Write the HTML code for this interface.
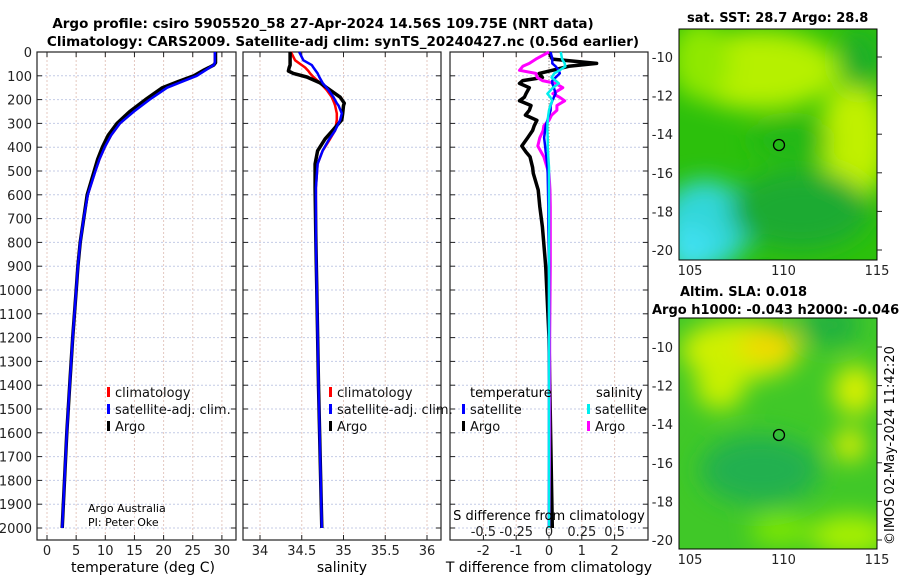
<!DOCTYPE html>
<html><head><meta charset="utf-8"><style>
body{margin:0;background:#fff;}
svg{display:block;font-family:"DejaVu Sans","Liberation Sans",sans-serif;}
</style></head><body>
<svg id="c" width="900" height="580" viewBox="0 0 900 580" xmlns="http://www.w3.org/2000/svg">
<defs>
<filter id="bl" x="-50%" y="-50%" width="200%" height="200%"><feGaussianBlur stdDeviation="12"/></filter>
<clipPath id="m1c"><rect x="679" y="29" width="198" height="231"/></clipPath>
<clipPath id="m2c"><rect x="679" y="318" width="198" height="231"/></clipPath>
</defs>
<text x="323" y="28" text-anchor="middle" font-size="13.5" font-weight="bold">Argo profile: csiro 5905520_58 27-Apr-2024 14.56S 109.75E (NRT data)</text>
<text x="343" y="46" text-anchor="middle" font-size="13.5" font-weight="bold">Climatology: CARS2009. Satellite-adj clim: synTS_20240427.nc (0.56d earlier)</text>

<g>
<g clip-path="url(#m1c)">
<rect x="679" y="29" width="198" height="231" fill="#2cc00c"/>
<g filter="url(#bl)">
<ellipse cx="760" cy="70" rx="80" ry="40" fill="#b6f000"/>
<ellipse cx="700" cy="60" rx="30" ry="40" fill="#90e800"/>
<ellipse cx="855" cy="140" rx="35" ry="60" fill="#c0f000"/>
<ellipse cx="860" cy="60" rx="20" ry="30" fill="#1fae2a"/>
<ellipse cx="705" cy="225" rx="45" ry="45" fill="#30d6d8"/>
<ellipse cx="690" cy="250" rx="25" ry="25" fill="#40e0f0"/>
<ellipse cx="800" cy="210" rx="70" ry="40" fill="#1faa30"/>
<ellipse cx="790" cy="140" rx="40" ry="20" fill="#20b818"/>
</g>
</g>
<rect x="679" y="29" width="198" height="231" fill="none" stroke="#000" stroke-width="1"/>
<circle cx="779" cy="145" r="5.5" fill="none" stroke="#000" stroke-width="1.3"/>
</g>
<text x="687" y="22" font-size="13" font-weight="bold">sat. SST: 28.7 Argo: 28.8</text>

<g>
<g clip-path="url(#m2c)">
<rect x="679" y="318" width="198" height="231" fill="#40c828"/>
<g filter="url(#bl)">
<ellipse cx="740" cy="350" rx="60" ry="30" fill="#d0f000"/>
<ellipse cx="770" cy="345" rx="30" ry="18" fill="#f0d800"/>
<ellipse cx="720" cy="385" rx="25" ry="25" fill="#c8f000"/>
<ellipse cx="855" cy="390" rx="22" ry="25" fill="#d8f000"/>
<ellipse cx="850" cy="445" rx="16" ry="16" fill="#e0f000"/>
<ellipse cx="830" cy="325" rx="30" ry="20" fill="#20b040"/>
<ellipse cx="760" cy="470" rx="60" ry="35" fill="#20b050"/>
<ellipse cx="850" cy="535" rx="40" ry="20" fill="#a8f000"/>
<ellipse cx="780" cy="530" rx="30" ry="15" fill="#80e800"/>
</g>
</g>
<rect x="679" y="318" width="198" height="231" fill="none" stroke="#000" stroke-width="1"/>
<circle cx="779" cy="435" r="5.5" fill="none" stroke="#000" stroke-width="1.3"/>
</g>
<text x="680" y="296" font-size="13" font-weight="bold">Altim. SLA: 0.018</text>
<text x="652" y="314" font-size="13" font-weight="bold">Argo h1000: -0.043 h2000: -0.046</text>
<text transform="translate(894,545) rotate(-90)" font-size="13">©IMOS 02-May-2024 11:42:20</text>

<g id="plots"></g>

<text x="88" y="512" font-size="11">Argo Australia</text>
<text x="88" y="526" font-size="11">PI: Peter Oke</text>
<text x="143" y="572" text-anchor="middle" font-size="14">temperature (deg C)</text>
<text x="342" y="572" text-anchor="middle" font-size="14">salinity</text>
<text x="549" y="572" text-anchor="middle" font-size="14">T difference from climatology</text>
<text x="549" y="520" text-anchor="middle" font-size="13">S difference from climatology</text>
</svg>
<script>
const tDepth=[0,45,55,65,75,100,125,150,200,250,300,350,400,450,500,600,700,800,900,1000,1200,1400,1600,1800,2000];
const tArgo=[28.9,28.9,28.6,27.8,27.0,25.2,22.4,19.8,16.9,14.2,12,10.5,9.5,8.7,8.1,6.9,6.3,5.7,5.3,5.0,4.4,3.9,3.4,3.0,2.6];
const tClim=[28.8,28.8,28.6,27.9,27.2,25.6,23.0,20.5,17.5,14.8,12.5,11.0,9.9,9.0,8.3,7.0,6.3,5.7,5.3,5.0,4.4,3.9,3.4,3.0,2.6];
const tSat=[28.8,28.8,28.6,27.9,27.3,25.7,23.1,20.6,17.6,14.9,12.5,11.0,9.9,9.0,8.3,7.0,6.3,5.7,5.3,5.0,4.4,3.9,3.4,3.0,2.6];
const sDepth=[0,35,55,65,80,90,105,130,160,190,215,225,258,285,330,365,415,470,570,800,1000,1400,2000];
const sArgo=[34.36,34.36,34.36,34.35,34.34,34.40,34.56,34.72,34.84,34.96,35.01,35.0,34.99,34.98,34.87,34.78,34.69,34.66,34.66,34.67,34.68,34.70,34.74];
const sClim=[34.37,34.42,34.50,34.54,34.58,34.60,34.64,34.72,34.80,34.86,34.89,34.90,34.92,34.92,34.90,34.84,34.75,34.69,34.67,34.67,34.68,34.70,34.74];
const sSat=[34.47,34.52,34.62,34.64,34.67,34.69,34.71,34.75,34.82,34.88,34.92,34.94,34.98,34.96,34.90,34.83,34.75,34.69,34.67,34.67,34.68,34.70,34.74];
const dDepth=[0,30,48,60,77,90,107,120,132,150,175,190,205,225,245,265,287,310,330,360,395,420,440,485,510,580,650,735,900,1200,1600,2000];
const dTArgo=[0,0.1,1.45,0.6,0.1,-0.3,-0.2,-0.8,-0.9,-0.6,-0.7,-0.75,-0.9,-0.55,-0.6,-0.72,-0.37,-0.45,-0.5,-0.65,-0.83,-0.7,-0.58,-0.5,-0.48,-0.33,-0.28,-0.2,-0.1,0,0.05,0.1];
const dTSat=[0.05,0.1,0.1,0.2,0.3,0.33,0.2,0.1,0.1,0.15,0.2,0.15,0.1,0.05,0.05,0,-0.05,-0.1,-0.12,-0.15,-0.12,-0.1,-0.08,-0.05,-0.04,-0.03,-0.02,-0.02,0,0,0,0];
const dSArgo=[0,-0.1,-0.15,-0.2,-0.225,-0.1,-0.09,-0.05,0.05,0.105,0.03,0.08,0.12,0.06,0.06,0.02,0,-0.04,-0.045,-0.07,-0.085,-0.06,-0.04,-0.015,0,0.008,0.01,0.01,0.01,0.005,0.005,0];
const dSSat=[0.09,0.1,0.12,0.125,0.08,0.04,0.02,0.05,0.075,0.03,-0.012,0.01,0.025,0.01,0,-0.005,-0.01,-0.012,-0.012,-0.01,-0.01,-0.008,-0.005,0,0,0,0,0,0,0,0,0];
const yTicks=[0,100,200,300,400,500,600,700,800,900,1000,1100,1200,1300,1400,1500,1600,1700,1800,1900,2000];
const tTicks=[0,5,10,15,20,25,30];
const sTicks=[34,34.5,35,35.5,36];
const dTTicks=[-2,-1,0,1,2];
const dSTicks=[-0.5,-0.25,0,0.25,0.5];
const dSTickLabels=["-0.5","-0.25","0","0.25","0.5"];

const NS="http://www.w3.org/2000/svg";
const root=document.getElementById('plots');
const TOP=52;
const Y=d=>52+0.238*d;
const XT=v=>47+5.83*v;
const XS=v=>260+83.5*(v-34);
const XD=v=>549+32.8*v;
const XDS=v=>549+131.2*v;
function mk(tag,attrs,parent){const e=document.createElementNS(NS,tag);for(const k in attrs)e.setAttribute(k,attrs[k]);(parent||root).appendChild(e);return e;}
function panel(name,x0,x1,xt,xf){
  const g=mk('g',{});
  
  
  mk('rect',{x:x0,y:TOP,width:x1-x0,height:540-TOP,fill:'#fff'},g);
  yTicks.forEach(d=>{const l=mk('line',{x1:x0,x2:x1,y1:Y(d),y2:Y(d),stroke:'#c4cbe6','stroke-width':1,'stroke-dasharray':'2,2'},g);
    
    
    mk('line',{x1:x0,x2:x0+5,y1:Y(d),y2:Y(d),stroke:'#222'},g);
    mk('line',{x1:x1-5,x2:x1,y1:Y(d),y2:Y(d),stroke:'#222'},g);});
  xt.forEach(v=>{const x=xf(v);const l=mk('line',{x1:x,x2:x,y1:TOP,y2:540,stroke:'#e4c8c0','stroke-width':1,'stroke-dasharray':'2,2'},g);
    
    
    mk('line',{x1:x,x2:x,y1:TOP,y2:TOP+5,stroke:'#222'},g);
    mk('line',{x1:x,x2:x,y1:535,y2:540,stroke:'#222'},g);
    const t=mk('text',{x:x,y:555,'text-anchor':'middle','font-size':13,fill:'#222'},g);t.textContent=v;
    
    });
  mk('rect',{x:x0,y:TOP,width:x1-x0,height:540-TOP,fill:'none',stroke:'#222','stroke-width':1.2},g);
  return g;
}
function line(g,name,xs,ds,xf,col,w){
  const p=mk('path',{d:xs.map((v,i)=>(i?'L':'M')+xf(v).toFixed(1)+','+Y(ds[i]).toFixed(1)).join(''),fill:'none',stroke:col,'stroke-width':w,'stroke-linejoin':'round'},g);
  
  
}
function leg(x,y,col,txt,name){
  const g=mk('g',{});
  
  
  mk('rect',{x:x,y:y-10,width:3,height:10,fill:col},g);
  const t=mk('text',{x:x+8,y:y,'font-size':13,fill:'#111'},g);t.textContent=txt;
}
yTicks.forEach(d=>{const t=mk('text',{x:32,y:Y(d)+5,'text-anchor':'end','font-size':13,fill:'#222'});t.textContent=d;
  
  });
const p1=panel('temperature-panel',37,236,tTicks,XT);
line(p1,'temperature-climatology',tClim,tDepth,XT,'#f00',2.5);
line(p1,'temperature-argo',tArgo,tDepth,XT,'#000',3.5);
line(p1,'temperature-satellite-adj',tSat,tDepth,XT,'#00f',2.5);
const p2=panel('salinity-panel',243,441,sTicks,XS);
line(p2,'salinity-climatology',sClim,sDepth,XS,'#f00',2.5);
line(p2,'salinity-argo',sArgo,sDepth,XS,'#000',3.5);
line(p2,'salinity-satellite-adj',sSat,sDepth,XS,'#00f',2.5);
const p3=panel('difference-panel',450,648,dTTicks,XD);
mk('line',{x1:549,x2:549,y1:TOP,y2:540,stroke:'#888','stroke-dasharray':'1,2'},p3);
dSTicks.forEach((v,i)=>{const t=mk('text',{x:XDS(v),y:536,'text-anchor':'middle','font-size':13,fill:'#222'});t.textContent=dSTickLabels[i];
  
  });
line(p3,'t-diff-argo',dTArgo,dDepth,XD,'#000',3.5);
line(p3,'s-diff-argo',dSArgo,dDepth,XDS,'#f0f',3);
line(p3,'t-diff-satellite',dTSat,dDepth,XD,'#00f',2.5);
line(p3,'s-diff-satellite',dSSat,dDepth,XDS,'#0ee',2.5);
leg(107,397,'#f00','climatology','legend-climatology');
leg(107,414,'#00f','satellite-adj. clim.','legend-satellite-adj');
leg(107,431,'#000','Argo','legend-argo');
leg(329,397,'#f00','climatology','legend-climatology-sal');
leg(329,414,'#00f','satellite-adj. clim.','legend-satellite-adj-sal');
leg(329,431,'#000','Argo','legend-argo-sal');
let tt=mk('text',{x:470,y:397,'font-size':13});tt.textContent='temperature';


tt=mk('text',{x:596,y:397,'font-size':13});tt.textContent='salinity';


leg(462,414,'#00f','satellite','legend-t-satellite');
leg(462,431,'#000','Argo','legend-t-argo');
leg(587,414,'#0ee','satellite','legend-s-satellite');
leg(587,431,'#f0f','Argo','legend-s-argo');
const latTicks=[-10,-12,-14,-16,-18,-20];
const lonTicks=[105,110,115];
function mapAxes(top,lat0y,name){
  const g=mk('g',{});
  
  
  latTicks.forEach(v=>{const y=lat0y+(-10-v)*19.3;
    const t=mk('text',{x:673,y:y+5,'text-anchor':'end','font-size':13,fill:'#222'},g);t.textContent=v;
    mk('line',{x1:877,x2:882,y1:y,y2:y,stroke:'#222'},g);});
  lonTicks.forEach(v=>{const x=690+(v-105)*18.7;
    const t=mk('text',{x:x,y:top+246,'text-anchor':'middle','font-size':13,fill:'#222'},g);t.textContent=v;});
}
mapAxes(29,57,'sst-map-axes');
mapAxes(318,347,'sla-map-axes');
</script>
</body></html>
